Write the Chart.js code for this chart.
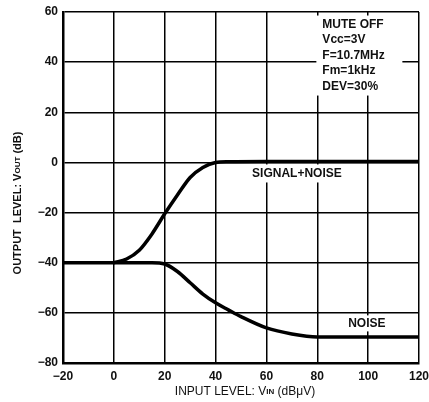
<!DOCTYPE html>
<html>
<head>
<meta charset="utf-8">
<script src="https://cdn.jsdelivr.net/npm/chart.js@4"></script>
<style>
  html, body { margin: 0; padding: 0; background: #fff; }
  #wrap { width: 429px; height: 402px; position: relative; }
</style>
</head>
<body>
<div id="wrap"><canvas id="chart"></canvas></div>
<script>
// values
const signalX = [0, 5, 10, 15, 20, 25, 30, 35, 40, 45, 60, 80, 100, 120];
const signalY = [-40, -38.5, -35, -28.5, -20.5, -13, -6, -2, 0, 0.3, 0.4, 0.4, 0.4, 0.4];
const noiseX = [-20, 0, 10, 15, 20, 25, 30, 35, 40, 45, 50, 60, 70, 80, 100, 120];
const noiseY = [-40, -40, -40, -40, -40.5, -43.5, -48, -52.5, -56, -58.8, -61.5, -66, -68.4, -69.6, -69.6, -69.6];
const xTicks = [-20, 0, 20, 40, 60, 80, 100, 120];
const yTicks = [-80, -60, -40, -20, 0, 20, 40, 60];

const FONT = "'Liberation Sans', Arial, sans-serif";

const toPoints = (xs, ys) => xs.map((x, i) => ({ x: x, y: ys[i] }));
const minus = v => String(v).replace('-', '\u2212');

// text labels inside the plot, drawn on white so gridlines break behind them
const notes = [
  { x: 82, y: 55, lines: ["MUTE OFF", "Vcc=3V", "F=10.7MHz", "Fm=1kHz", "DEV=30%"], align: "left", box: [-6, -9, 86, 80] },
  { x: 72, y: -4.4, lines: ["SIGNAL+NOISE"], align: "center", box: [-52, -9, 104, 18] },
  { x: 99.5, y: -64.2, lines: ["NOISE"], align: "center", box: [-22, -8, 44, 16] }
];

// draws small caps part (e.g. "OUT" in VOUT) smaller
function drawParts(ctx, parts, x, y) {
  let total = 0;
  parts.forEach(p => { ctx.font = p.font; total += ctx.measureText(p.t).width; });
  let cx = x - total / 2;
  parts.forEach(p => {
    ctx.font = p.font;
    ctx.fillText(p.t, cx, y);
    cx += ctx.measureText(p.t).width;
  });
}

const decor = {
  id: 'decor',
  beforeDatasetsDraw(chart) {
    const ctx = chart.ctx;
    const xs = chart.scales.x, ys = chart.scales.y;
    ctx.save();
    notes.forEach(n => {
      const px = xs.getPixelForValue(n.x), py = ys.getPixelForValue(n.y);
      ctx.fillStyle = '#fff';
      ctx.fillRect(px + n.box[0], py + n.box[1], n.box[2], n.box[3]);
      ctx.fillStyle = '#111';
      ctx.font = 'bold 12px ' + FONT;
      ctx.textAlign = n.align;
      ctx.textBaseline = 'middle';
      n.lines.forEach((l, i) => ctx.fillText(l, px, py + i * 15.5));
    });
    ctx.restore();
  },
  afterDraw(chart) {
    const ctx = chart.ctx;
    const a = chart.chartArea;
    ctx.save();
    ctx.fillStyle = '#111';
    ctx.textAlign = 'left';
    ctx.textBaseline = 'middle';
    // x axis title
    drawParts(ctx, [
      { t: "INPUT LEVEL: V", font: '12px ' + FONT },
      { t: "IN", font: 'bold 8px ' + FONT },
      { t: " (dB\u03bcV)", font: '12px ' + FONT }
    ], (a.left + a.right) / 2 + 4, 392);
    // y axis title
    ctx.translate(18, 203);
    ctx.rotate(-Math.PI / 2);
    drawParts(ctx, [
      { t: "OUTPUT  LEVEL: V", font: 'bold 11px ' + FONT },
      { t: "OUT", font: 'bold 8px ' + FONT },
      { t: " (dB)", font: 'bold 11px ' + FONT }
    ], 0, 0);
    ctx.restore();
  }
};

new Chart(document.getElementById('chart'), {
  type: 'scatter',
  data: {
    datasets: [
      { label: 'SIGNAL+NOISE', data: toPoints(signalX, signalY), showLine: true, borderColor: '#000', borderWidth: 3.5, pointRadius: 0, cubicInterpolationMode: 'monotone', fill: false },
      { label: 'NOISE', data: toPoints(noiseX, noiseY), showLine: true, borderColor: '#000', borderWidth: 3.5, pointRadius: 0, cubicInterpolationMode: 'monotone', fill: false }
    ]
  },
  options: {
    responsive: true,
    maintainAspectRatio: false,
    animation: false,
    layout: { padding: { left: 0, right: 10, top: 12, bottom: 0 } },
    plugins: { legend: { display: false }, tooltip: { enabled: false } },
    scales: {
      x: {
        type: 'linear', min: -20, max: 120,
        afterBuildTicks: s => { s.ticks = xTicks.map(v => ({ value: v })); },
        afterFit: s => { s.height = 39; s.paddingLeft = 0; s.paddingRight = 0; },
        grid: { color: '#000', lineWidth: 1.5, drawTicks: false },
        border: { color: '#000', width: 2.5 },
        ticks: { color: '#111', padding: 6, font: { family: FONT, size: 12, weight: 'bold' }, callback: v => minus(v) }
      },
      y: {
        type: 'linear', min: -80, max: 60,
        afterBuildTicks: s => { s.ticks = yTicks.map(v => ({ value: v })); },
        afterFit: s => { s.width = 63; s.paddingTop = 0; s.paddingBottom = 0; },
        grid: { color: '#000', lineWidth: 1.5, drawTicks: false },
        border: { color: '#000', width: 2.5 },
        ticks: { color: '#111', padding: 5, font: { family: FONT, size: 12, weight: 'bold' }, callback: v => minus(v) }
      }
    }
  },
  plugins: [decor]
});
</script>
</body>
</html>
